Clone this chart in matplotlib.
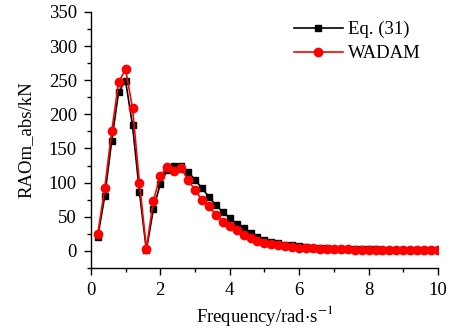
import matplotlib.pyplot as plt
import numpy as np
from matplotlib.ticker import MultipleLocator

plt.rcParams['font.family'] = ['Liberation Serif', 'DejaVu Serif']
plt.rcParams['mathtext.fontset'] = 'stix'

freq = [0.2, 0.4, 0.6, 0.8, 1.0, 1.2, 1.4, 1.6, 1.8, 2.0,
        2.2, 2.4, 2.6, 2.8, 3.0, 3.2, 3.4, 3.6, 3.8, 4.0,
        4.2, 4.4, 4.6, 4.8, 5.0, 5.2, 5.4, 5.6, 5.8, 6.0,
        6.2, 6.4, 6.6, 6.8, 7.0, 7.2, 7.4, 7.6, 7.8, 8.0,
        8.2, 8.4, 8.6, 8.8, 9.0, 9.2, 9.4, 9.6, 9.8, 10.0]

eq31 = [21, 80, 161, 233, 249, 184, 86, 1, 61, 98,
        118, 125, 124, 116, 104, 92, 79, 67, 57, 48,
        39.5, 33, 26, 20, 16, 13, 11, 9, 8, 6.5,
        5.5, 4.8, 4.2, 3.7, 3.3, 3.0, 2.7, 2.5, 2.3, 2.1,
        2.0, 1.9, 1.8, 1.7, 1.6, 1.5, 1.4, 1.3, 1.3, 1.2]

wadam = [25, 92, 175, 247, 266, 209, 100, 3, 73.5, 110,
         123, 117, 121, 104, 89, 75, 65, 53, 43, 36,
         30, 23, 18.5, 14, 11.5, 9.5, 8, 6.5, 5.5, 4.6,
         4.0, 3.5, 3.1, 2.8, 2.5, 2.3, 2.1, 1.9, 1.8, 1.7,
         1.6, 1.5, 1.4, 1.3, 1.2, 1.1, 1.0, 1.0, 0.9, 0.9]

fig = plt.figure(figsize=(4.52, 3.32), dpi=100)
ax = fig.add_axes([0.201, 0.193, 0.768, 0.771])

ax.plot(freq, eq31, color='black', marker='s', markersize=5, linewidth=1.2, label='Eq. (31)')
ax.plot(freq, wadam, color='red', marker='o', markersize=6, linewidth=1.2, label='WADAM')

ax.set_xlim(0, 10)
ax.set_ylim(-25, 350)
ax.xaxis.set_major_locator(MultipleLocator(2))
ax.xaxis.set_minor_locator(MultipleLocator(1))
ax.yaxis.set_major_locator(MultipleLocator(50))
ax.yaxis.set_minor_locator(MultipleLocator(25))

for s in ['top', 'right']:
    ax.spines[s].set_visible(False)
for s in ['left', 'bottom']:
    ax.spines[s].set_linewidth(1.0)

ax.tick_params(which='major', direction='out', length=5, width=1.0, labelsize=13.5, pad=5)
ax.tick_params(which='minor', direction='out', length=3, width=1.0)

ax.set_xlabel('Frequency/rad$\\cdot$s$^{-1}$', fontsize=13.5, labelpad=3)
ax.set_ylabel('RAOm_abs/kN', fontsize=13.5, labelpad=10)

ax.legend(loc='upper right', bbox_to_anchor=(1.0, 1.03), frameon=False, fontsize=13.5,
          handlelength=2.6, handletextpad=0.3, labelspacing=0.35)

plt.savefig('out.png')
